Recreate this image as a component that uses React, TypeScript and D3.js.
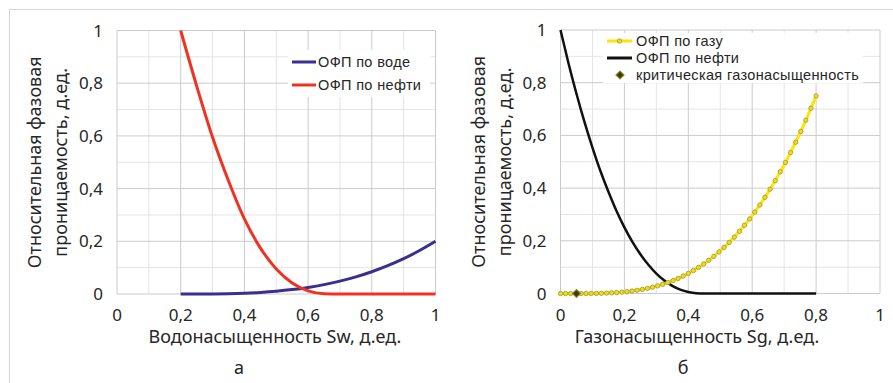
import React from "react";
import * as d3 from "d3";

// ---- Chart a: water / oil ----
const swValues = [0.2, 0.25, 0.3, 0.35, 0.4, 0.45, 0.5, 0.55, 0.6, 0.65, 0.7, 0.75, 0.8, 0.85, 0.9, 0.95, 1.0];
const krwValues = [0, 0.00005, 0.0004, 0.0013, 0.0031, 0.0061, 0.0105, 0.0167, 0.025, 0.0356, 0.0488, 0.065, 0.0844, 0.1073, 0.134, 0.165, 0.2];
const kroWaterValues = [1, 0.79, 0.595, 0.43, 0.285, 0.175, 0.095, 0.042, 0.012, 0.001, 0, 0, 0, 0, 0, 0, 0];

// ---- Chart б: gas / oil ----
const sgOilValues = [
  0, 0.025, 0.05, 0.075, 0.1, 0.125, 0.15, 0.175, 0.2, 0.225,
  0.25, 0.275, 0.3, 0.325, 0.35, 0.375, 0.4, 0.425, 0.45, 0.5, 0.6, 0.7, 0.8,
];
const kroGasValues = [
  1, 0.874, 0.758, 0.651, 0.554, 0.465, 0.386, 0.314, 0.251, 0.196,
  0.149, 0.109, 0.0757, 0.0493, 0.0292, 0.0148, 0.0057, 0.0011, 0, 0, 0, 0, 0,
];

const sgGasValues = [
  0, 0.016, 0.032, 0.048, 0.064, 0.08, 0.096, 0.112, 0.128, 0.144,
  0.16, 0.176, 0.192, 0.208, 0.224, 0.24, 0.256, 0.272, 0.288, 0.304,
  0.32, 0.336, 0.352, 0.368, 0.384, 0.4, 0.416, 0.432, 0.448, 0.464,
  0.48, 0.496, 0.512, 0.528, 0.544, 0.56, 0.576, 0.592, 0.608, 0.624,
  0.64, 0.656, 0.672, 0.688, 0.704, 0.72, 0.736, 0.752, 0.768, 0.784, 0.8,
];
const krgValues = [
  0, 0, 0, 0, 0, 0.00005, 0.00017, 0.0004, 0.00084, 0.0015,
  0.0024, 0.0036, 0.0051, 0.007, 0.0094, 0.0122, 0.0155, 0.0195, 0.024, 0.0291,
  0.035, 0.0416, 0.049, 0.0572, 0.0662, 0.0762, 0.0872, 0.0991, 0.112, 0.126,
  0.141, 0.158, 0.175, 0.194, 0.214, 0.236, 0.259, 0.283, 0.309, 0.336,
  0.365, 0.396, 0.428, 0.462, 0.497, 0.535, 0.574, 0.615, 0.658, 0.703, 0.75,
];
const criticalSg = [0.05];
const criticalKrg = [0];

const majorTicks = [0, 0.2, 0.4, 0.6, 0.8, 1];
const minorTicks = [0.1, 0.3, 0.5, 0.7, 0.9];
const tickLabels = ["0", "0,2", "0,4", "0,6", "0,8", "1"];

const yTitle1 = "Относительная фазовая";
const yTitle2 = "проницаемость, д.ед.";
const xTitleA = "Водонасыщенность Sw, д.ед.";
const xTitleB = "Газонасыщенность Sg, д.ед.";

const FONT = "'Noto Sans', sans-serif";
const LEG_FONT = "'Liberation Sans', Arial, sans-serif";
const TXT = "#262626";

type Pt = [number, number];
const zip = (a: number[], b: number[]): Pt[] => a.map((v, i) => [v, b[i]]);

function Panel(props: {
  x0: number; x1: number; y0: number; y1: number;
  xTitle: string; label: string; labelX: number; titleX: number;
  ytX1: number; ytX2: number;
  children: (x: d3.ScaleLinear<number, number>, y: d3.ScaleLinear<number, number>) => React.ReactNode;
}) {
  const x = d3.scaleLinear().domain([0, 1]).range([props.x0, props.x1]);
  const y = d3.scaleLinear().domain([0, 1]).range([props.y0, props.y1]);
  const yc = (props.y0 + props.y1) / 2;
  return (
    <g>
      {minorTicks.map((t) => (
        <g key={"m" + t}>
          <line x1={x(t)} x2={x(t)} y1={y(0)} y2={y(1)} stroke="#e4e4e4" strokeWidth={1} />
          <line x1={x(0)} x2={x(1)} y1={y(t)} y2={y(t)} stroke="#e4e4e4" strokeWidth={1} />
        </g>
      ))}
      {majorTicks.map((t) => (
        <g key={"M" + t}>
          <line x1={x(t)} x2={x(t)} y1={y(0)} y2={y(1)} stroke="#cbcbcb" strokeWidth={1} />
          <line x1={x(0)} x2={x(1)} y1={y(t)} y2={y(t)} stroke="#cbcbcb" strokeWidth={1} />
        </g>
      ))}
      {majorTicks.map((t, i) => (
        <text key={"xt" + t} x={x(t)} y={y(0) + 27} textAnchor="middle" fontSize={17} fontFamily={FONT} fill={TXT}>
          {tickLabels[i]}
        </text>
      ))}
      {majorTicks.map((t, i) => (
        <text key={"yt" + t} x={x(0) - 14} y={y(t) + 6} textAnchor="end" fontSize={17} fontFamily={FONT} fill={TXT}>
          {tickLabels[i]}
        </text>
      ))}
      <text x={props.ytX1} y={yc} transform={`rotate(-90 ${props.ytX1} ${yc})`} textAnchor="middle" fontSize={18} fontFamily={FONT} fill={TXT}>
        {yTitle1}
      </text>
      <text x={props.ytX2} y={yc} transform={`rotate(-90 ${props.ytX2} ${yc})`} textAnchor="middle" fontSize={18} fontFamily={FONT} fill={TXT}>
        {yTitle2}
      </text>
      <text x={props.titleX} y={343} textAnchor="middle" fontSize={18} fontFamily={FONT} fill={TXT}>
        {props.xTitle}
      </text>
      <text x={props.labelX} y={374} textAnchor="middle" fontSize={18} fontFamily={FONT} fill={TXT}>
        {props.label}
      </text>
      {props.children(x, y)}
    </g>
  );
}

export default function App() {
  const W = 893, H = 383;
  return (
    <svg width={W} height={H} style={{ position: "absolute", left: 0, top: 0, background: "#fff" }}>
      <rect x={0} y={0} width={W} height={H} fill="#fff" />
      <line x1={9.5} x2={W} y1={9.5} y2={9.5} stroke="#d6d6d6" />
      <line x1={9.5} x2={9.5} y1={9.5} y2={H} stroke="#d6d6d6" />

      <Panel x0={117} x1={435.5} y0={294} y1={30.5} xTitle={xTitleA} label="а" labelX={239} titleX={275} ytX1={41} ytX2={67}>
        {(x, y) => {
          const line = d3.line<Pt>().x((d) => x(d[0])).y((d) => y(d[1])).curve(d3.curveMonotoneX);
          return (
            <g>
              <path d={line(zip(swValues, krwValues)) || ""} fill="none" stroke="#3a2f8e" strokeWidth={3} />
              <path d={line(zip(swValues, kroWaterValues)) || ""} fill="none" stroke="#ee3323" strokeWidth={3} />
              <rect x={288} y={50} width={142} height={47} fill="#fff" />
              <line x1={292} x2={316} y1={62} y2={62} stroke="#3a2f8e" strokeWidth={3} />
              <text x={318} y={67} fontSize={14.5} letterSpacing={0.35} fontFamily={LEG_FONT} fill={TXT}>ОФП по воде</text>
              <line x1={292} x2={316} y1={85} y2={85} stroke="#ee3323" strokeWidth={3} />
              <text x={318} y={90} fontSize={14.5} letterSpacing={0.35} fontFamily={LEG_FONT} fill={TXT}>ОФП по нефти</text>
            </g>
          );
        }}
      </Panel>

      <Panel x0={560.5} x1={880} y0={293.5} y1={30} xTitle={xTitleB} label="б" labelX={683} titleX={697} ytX1={485} ytX2={511}>
        {(x, y) => {
          const line = d3.line<Pt>().x((d) => x(d[0])).y((d) => y(d[1])).curve(d3.curveMonotoneX);
          const gas = zip(sgGasValues, krgValues);
          const diamond = d3.symbol().type(d3.symbolSquare).size(32)() || "";
          return (
            <g>
              <rect x={603} y={33} width={260} height={50} fill="#fff" />
              <path d={line(zip(sgOilValues, kroGasValues)) || ""} fill="none" stroke="#111" strokeWidth={2.5} />
              <path d={line(gas) || ""} fill="none" stroke="#ffe500" strokeWidth={3} />
              {gas.map((d, i) => (
                <circle key={i} cx={x(d[0])} cy={y(d[1])} r={2.2} fill="#f2e000" stroke="#9a9460" strokeWidth={0.8} />
              ))}
              {criticalSg.map((s, i) => (
                <path key={"c" + i} d={diamond} transform={`translate(${x(s)},${y(criticalKrg[i])}) rotate(45)`} fill="#3b3a14" stroke="#8d8a1e" strokeWidth={1.2} />
              ))}
              <line x1={607} x2={632} y1={41} y2={41} stroke="#ffe500" strokeWidth={3} />
              <circle cx={619.5} cy={41} r={2.2} fill="#f2e000" stroke="#9a9460" strokeWidth={0.8} />
              <text x={636} y={46} fontSize={14.5} letterSpacing={0.35} fontFamily={LEG_FONT} fill={TXT}>ОФП по газу</text>
              <line x1={607} x2={632} y1={58} y2={58} stroke="#111" strokeWidth={3} />
              <text x={636} y={63} fontSize={14.5} letterSpacing={0.35} fontFamily={LEG_FONT} fill={TXT}>ОФП по нефти</text>
              <path d={diamond} transform={`translate(620,75) rotate(45)`} fill="#3b3a14" stroke="#8d8a1e" strokeWidth={1.2} />
              <text x={636} y={80} fontSize={14.5} letterSpacing={0.35} fontFamily={LEG_FONT} fill={TXT}>критическая газонасыщенность</text>
            </g>
          );
        }}
      </Panel>
    </svg>
  );
}
